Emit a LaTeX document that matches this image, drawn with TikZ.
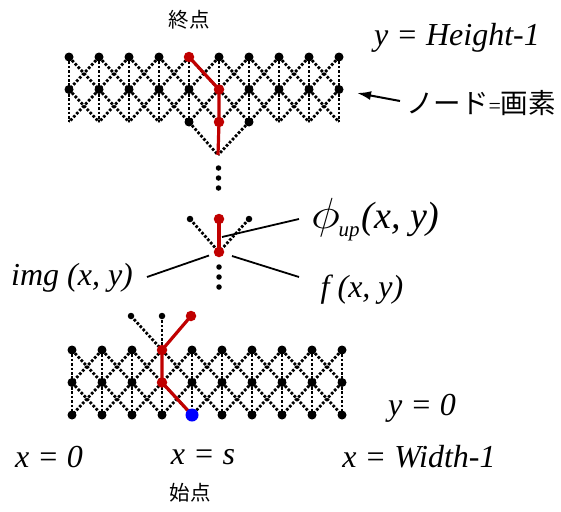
\documentclass[tikz,border=0pt]{standalone}
\usepackage{fontspec}
\usepackage{graphicx}
\setmainfont{Liberation Serif}
\newfontfamily\jp{Noto Sans CJK JP}
\usetikzlibrary{arrows.meta}
\definecolor{myred}{RGB}{192,0,0}
\definecolor{myblue}{RGB}{0,0,255}
\begin{document}
\begin{tikzpicture}[x=1pt,y=-1pt,
  gridline/.style={line width=2.8pt, dash pattern=on 2.6pt off 1.8pt, black},
  redline/.style={line width=3.2pt, draw=myred},
  leader/.style={line width=1.8pt, black},
  bigdot/.style={circle, fill=black, inner sep=0pt, minimum size=9pt},
  smalldot/.style={circle, fill=black, inner sep=0pt, minimum size=6.5pt},
  tinydot/.style={circle, fill=black, inner sep=0pt, minimum size=5.5pt},
  reddot/.style={circle, fill=myred, inner sep=0pt, minimum size=10.5pt},
  bluedot/.style={circle, fill=myblue, inner sep=0pt, minimum size=13pt},
  lbl/.style={inner sep=0pt, font=\fontsize{32}{34}\selectfont\itshape},
  jplbl/.style={inner sep=0pt, font=\fontsize{20.5}{22}\selectfont\jp},
]
\useasboundingbox (0,0) rectangle (561,511);

% ---- grid coordinates
\foreach \i in {0,...,9} {
  \coordinate (T-\i-0) at ({69+30*\i},57);
  \coordinate (T-\i-1) at ({69+30*\i},89.5);
  \coordinate (T-\i-2) at ({69+30*\i},122);
  \coordinate (B-\i-0) at ({72+30*\i},350);
  \coordinate (B-\i-1) at ({72+30*\i},382.5);
  \coordinate (B-\i-2) at ({72+30*\i},415);
}
% ---- grid dotted edges
\foreach \g in {T,B} {
  \foreach \i in {0,...,9} {
    \draw[gridline] (\g-\i-0) -- (\g-\i-1);
    \draw[gridline] (\g-\i-1) -- (\g-\i-2);
  }
  \foreach \i in {0,...,8} {
    \pgfmathtruncatemacro{\j}{\i+1}
    \foreach \r/\s in {0/1,1/2} {
      \draw[gridline] (\g-\i-\r) -- (\g-\j-\s);
      \draw[gridline] (\g-\j-\r) -- (\g-\i-\s);
    }
  }
}

% ---- extra coordinates
\coordinate (Vbot) at (218,155);
\coordinate (M1) at (219,219);
\coordinate (M2) at (219,252);
\coordinate (ML) at (190,219);
\coordinate (MR) at (249,219);
\coordinate (UL) at (131,316);
\coordinate (UM) at (162,316);
\coordinate (UR) at (191,316);

% ---- dotted extras
\draw[gridline] (T-4-2) -- (Vbot);
\draw[gridline] (T-6-2) -- (Vbot);
\draw[gridline] (ML) -- (M2);
\draw[gridline] (MR) -- (M2);
\draw[gridline] (UL) -- (B-3-0);
\draw[gridline] (UM) -- (B-3-0);

% ---- red paths
\draw[redline] (T-4-0) -- (T-5-1) -- (T-5-2) -- (Vbot);
\draw[redline] (M1) -- (M2);
\draw[redline] (UR) -- (B-3-0) -- (B-3-1) -- (B-4-2);

% ---- dots
\foreach \i in {0,...,9} {
  \node[bigdot] (TD-\i-0) at (T-\i-0) {};
  \node[bigdot] (TD-\i-1) at (T-\i-1) {};
  \node[bigdot] (BD-\i-0) at (B-\i-0) {};
  \node[bigdot] (BD-\i-1) at (B-\i-1) {};
  \node[bigdot] (BD-\i-2) at (B-\i-2) {};
}
\node[bigdot] (TD-4-2) at (T-4-2) {};
\node[bigdot] (TD-6-2) at (T-6-2) {};
\node[reddot] (TR0) at (T-4-0) {};
\node[reddot] (TR1) at (T-5-1) {};
\node[reddot] (TR2) at (T-5-2) {};

\foreach \k/\yy in {1/168,2/178,3/188} \node[tinydot] (E\k) at (218.5,\yy) {};
\foreach \k/\yy in {1/267,2/277,3/287} \node[tinydot] (F\k) at (219,\yy) {};
\node[smalldot] (MLd) at (ML) {};
\node[smalldot] (MRd) at (MR) {};
\node[reddot] (M1d) at (M1) {};
\node[reddot] (M2d) at (M2) {};

\node[smalldot] (ULd) at (UL) {};
\node[smalldot] (UMd) at (UM) {};
\node[reddot] (URd) at (UR) {};
\node[reddot] (BR0) at (B-3-0) {};
\node[reddot] (BR1) at (B-3-1) {};
\node[bluedot] (start) at (B-4-2) {};

% ---- labels
\node[jplbl] (end) at (189,20) {終点};
\node[jplbl] (beg) at (190,493) {始点};
\node[lbl] (yh) at (457,38) {y = Height-1};
\node[inner sep=0pt, font=\fontsize{27.5}{29}\selectfont\jp] (px) at (481,103) {ノード{\rmfamily\fontsize{22}{24}\selectfont =}画素};
\node[lbl] (y0) at (422,408) {y = 0};
\node[lbl] (x0) at (49,457) {x = 0};
\node[lbl] (xs) at (203,457) {x = s};
\node[lbl] (xw) at (419,457) {x = Width-1};
\node[lbl] (img) at (72,278) {img (x, y)};
\node[lbl] (fl) at (362,290) {f (x, y)};
\node[inner sep=0pt, anchor=base west, font=\fontsize{38}{40}\selectfont\itshape] (phi) at (311,228)
  {\scalebox{2.0}[1.75]{$\phi$}\kern-1.5pt{\fontsize{21}{23}\selectfont\raisebox{-8pt}{up}}\kern2pt(x, y)};

% ---- leaders
\coordinate (phiA) at (222,237);
\coordinate (phiB) at (299,219);
\coordinate (imgA) at (209,255.5);
\coordinate (imgB) at (147,277);
\coordinate (fA) at (232,256);
\coordinate (fB) at (299,277);
\draw[leader] (phiA) -- (phiB);
\draw[leader] (imgA) -- (imgB);
\draw[leader] (fA) -- (fB);

\coordinate (arT) at (400,101);
\coordinate (arH) at (357,93);
\draw[line width=2pt, -{Latex[length=14pt,width=9pt]}] (arT) -- (arH);
\end{tikzpicture}
\end{document}
